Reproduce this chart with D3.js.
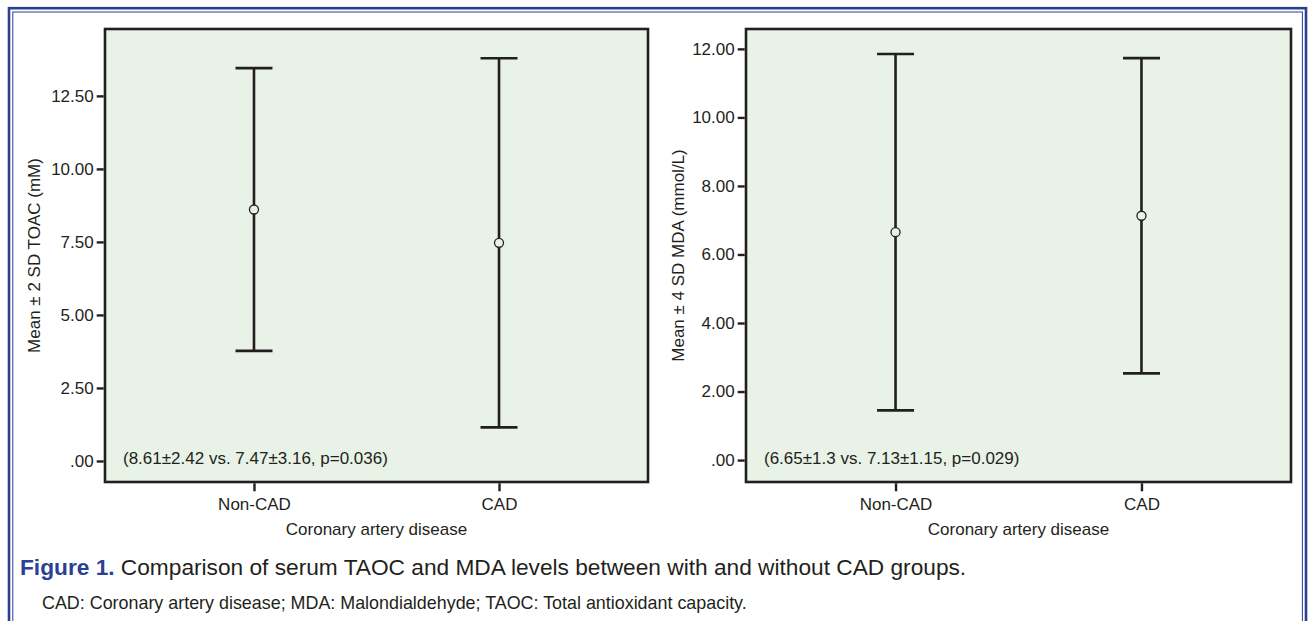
<!DOCTYPE html>
<html><head><meta charset="utf-8">
<script src="https://cdn.jsdelivr.net/npm/d3@7"></script>
<style>
html,body{margin:0;padding:0;background:#fff;}
svg{display:block;font-family:"Liberation Sans",Arial,Helvetica,sans-serif;}
</style></head>
<body><svg id="c" width="1311" height="621"></svg>
<script>
const categories = ["Non-CAD", "CAD"];
// Left panel: TAOC mean, lower, upper (mean ± 2 SD)
const taocMean = [8.61, 7.47];
const taocLow = [3.77, 1.15];
const taocHigh = [13.45, 13.79];
const taocTicks = [0, 2.5, 5, 7.5, 10, 12.5];
const taocTickLabels = [".00", "2.50", "5.00", "7.50", "10.00", "12.50"];
// Right panel: MDA mean, lower, upper (mean ± 4 SD)
const mdaMean = [6.65, 7.13];
const mdaLow = [1.45, 2.53];
const mdaHigh = [11.85, 11.73];
const mdaTicks = [0, 2, 4, 6, 8, 10, 12];
const mdaTickLabels = [".00", "2.00", "4.00", "6.00", "8.00", "10.00", "12.00"];

const svg = d3.select("#c");
const blue = "#2b3f94";
const ink = "#231f20";
const FS = 17;

// frame border
svg.append("rect").attr("x", 9).attr("y", 8.2).attr("width", 1297).attr("height", 640)
  .attr("fill", "none").attr("stroke", blue).attr("stroke-width", 2.6);
svg.append("rect").attr("x", 12.8).attr("y", 12).attr("width", 1289.6).attr("height", 640)
  .attr("fill", "none").attr("stroke", blue).attr("stroke-width", 1);

function panel(cfg) {
  const {x0, x1, y0, y1, domain, ticks, tickLabels, mean, low, high, yTitle, note, titleX} = cfg;
  const g = svg.append("g");
  const y = d3.scaleLinear().domain(domain).range([y1, y0]);
  const x = d3.scalePoint().domain(categories).range([x0, x1]).padding(0.608);

  g.append("rect").attr("x", x0).attr("y", y0).attr("width", x1 - x0).attr("height", y1 - y0)
    .attr("fill", "#e8f2e6").attr("stroke", ink).attr("stroke-width", 2.6);

  const yAxis = d3.axisLeft(y).tickValues(ticks).tickFormat((d, i) => tickLabels[i])
    .tickSize(7).tickPadding(3);
  const ya = g.append("g").attr("transform", `translate(${x0 - 1.3},0)`).call(yAxis);
  ya.select(".domain").remove();
  ya.selectAll("line").attr("stroke", ink).attr("stroke-width", 2.4);
  ya.selectAll("text").attr("fill", ink).attr("font-size", FS).attr("font-family", "Liberation Sans, Arial, sans-serif");

  const xAxis = d3.axisBottom(x).tickSize(8).tickPadding(7);
  const xa = g.append("g").attr("transform", `translate(0,${y1 + 1.3})`).call(xAxis);
  xa.select(".domain").remove();
  xa.selectAll("line").attr("stroke", ink).attr("stroke-width", 2.4);
  xa.selectAll("text").attr("fill", ink).attr("font-size", FS).attr("font-family", "Liberation Sans, Arial, sans-serif");

  g.append("text").attr("x", (x0 + x1) / 2).attr("y", y1 + 53).attr("text-anchor", "middle")
    .attr("font-size", FS).attr("fill", ink).text("Coronary artery disease");

  g.append("text").attr("transform", `translate(${titleX},${(y0 + y1) / 2}) rotate(-90)`)
    .attr("text-anchor", "middle").attr("font-size", FS).attr("fill", ink).text(yTitle);

  const cap = 18.5;
  categories.forEach((c, i) => {
    const cx = x(c);
    g.append("line").attr("x1", cx).attr("x2", cx).attr("y1", y(high[i])).attr("y2", y(low[i]))
      .attr("stroke", ink).attr("stroke-width", 2.6);
    [high[i], low[i]].forEach(v => {
      g.append("line").attr("x1", cx - cap).attr("x2", cx + cap).attr("y1", y(v)).attr("y2", y(v))
        .attr("stroke", ink).attr("stroke-width", 2.6);
    });
    g.append("circle").attr("cx", cx).attr("cy", y(mean[i])).attr("r", 4.5)
      .attr("fill", "#e8f2e6").attr("stroke", ink).attr("stroke-width", 1.3);
  });

  g.append("text").attr("x", x0 + 18).attr("y", y1 - 18).attr("font-size", FS).attr("fill", ink).text(note);
}

panel({x0: 105, x1: 648, y0: 29, y1: 482, domain: [-0.72, 14.79], ticks: taocTicks, tickLabels: taocTickLabels,
  mean: taocMean, low: taocLow, high: taocHigh, yTitle: "Mean \u00b1 2 SD TOAC (mM)", titleX: 40,
  note: "(8.61\u00b12.42 vs. 7.47\u00b13.16, p=0.036)"});
panel({x0: 746, x1: 1291, y0: 29, y1: 482, domain: [-0.64, 12.58], ticks: mdaTicks, tickLabels: mdaTickLabels,
  mean: mdaMean, low: mdaLow, high: mdaHigh, yTitle: "Mean \u00b1 4 SD MDA (mmol/L)", titleX: 684,
  note: "(6.65\u00b11.3 vs. 7.13\u00b11.15, p=0.029)"});

// caption
const cap1 = svg.append("text").attr("x", 20).attr("y", 575).attr("font-size", 22.7).attr("fill", ink);
cap1.append("tspan").attr("fill", blue).attr("font-weight", "bold").text("Figure 1.");
cap1.append("tspan").text(" Comparison of serum TAOC and MDA levels between with and without CAD groups.");
svg.append("text").attr("x", 42).attr("y", 609).attr("font-size", 17.9).attr("fill", ink)
  .text("CAD: Coronary artery disease; MDA: Malondialdehyde; TAOC: Total antioxidant capacity.");
</script></body></html>
